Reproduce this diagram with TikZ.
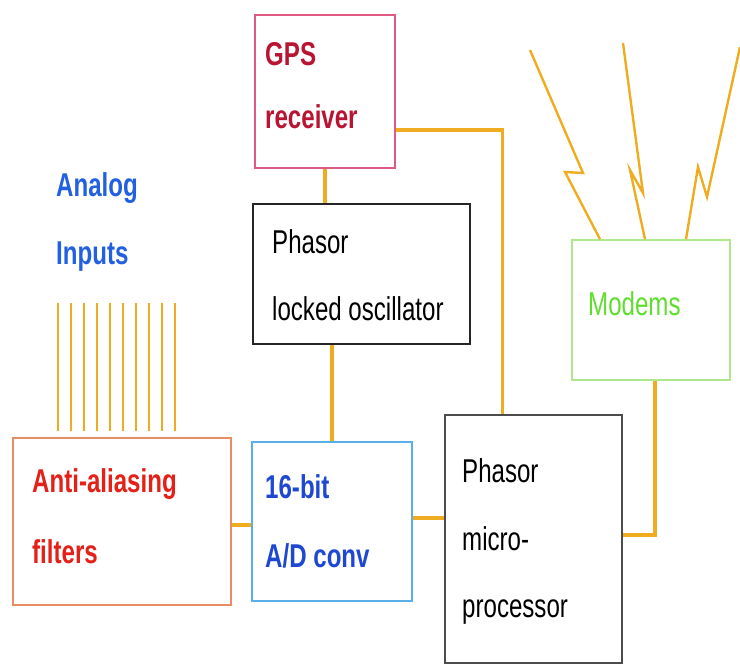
\documentclass[tikz,border=0pt]{standalone}
\usepackage{fontspec}
\setmainfont{Liberation Sans}[FakeStretch=0.73]
\usepackage{tikz}
\usetikzlibrary{calc,positioning}
\definecolor{wirec}{RGB}{240,172,32}
\definecolor{gpsc}{RGB}{222,90,130}
\definecolor{gpst}{RGB}{185,20,50}
\definecolor{filtc}{RGB}{232,140,100}
\definecolor{filtt}{RGB}{228,32,24}
\definecolor{adcc}{RGB}{90,175,232}
\definecolor{adct}{RGB}{30,72,210}
\definecolor{modc}{RGB}{175,232,140}
\definecolor{modt}{RGB}{95,222,45}
\definecolor{anat}{RGB}{35,95,225}

\begin{document}
\begin{tikzpicture}[x=1pt,y=-1pt,
  blk/.style={draw,line width=1.6pt,inner sep=0pt,fill=white},
  lbl/.style={anchor=base west,inner sep=0pt,font=\fontsize{33}{40}\selectfont},
  blbl/.style={lbl,font=\fontsize{33}{40}\selectfont\bfseries},
  wire/.style={draw=wirec,line width=3.5pt},
  bolt/.style={draw=wirec,line width=2.4pt,line join=miter}]
  \useasboundingbox (0,0) rectangle (740,664);
  % blocks
  \node[blk,draw=gpsc,minimum width=140pt,minimum height=153pt] (gps) at (325,91.5) {};
  \node[blk,draw=black!85,minimum width=217pt,minimum height=140pt] (osc) at (361.5,274) {};
  \node[blk,draw=filtc,minimum width=218pt,minimum height=167pt] (filt) at (122,521.5) {};
  \node[blk,draw=adcc,minimum width=160pt,minimum height=159pt] (adc) at (332,521.5) {};
  \node[blk,draw=black!70,minimum width=177pt,minimum height=248pt] (proc) at (533.5,539) {};
  \node[blk,draw=modc,minimum width=158pt,minimum height=140pt] (modem) at (651,310) {};
  % texts
  \node[blbl,text=gpst] (gps1) at (265,65) {GPS};
  \node[blbl,text=gpst] (gps2) at (265,128) {receiver};
  \node[lbl] (osc1) at (272,253) {Phasor};
  \node[lbl] (osc2) at (272,320) {locked oscillator};
  \node[blbl,text=filtt] (filt1) at (32,492) {Anti-aliasing};
  \node[blbl,text=filtt] (filt2) at (32,563) {filters};
  \node[blbl,text=adct] (adc1) at (265,498) {16-bit};
  \node[blbl,text=adct] (adc2) at (265,567) {A/D conv};
  \node[lbl] (proc1) at (462,482) {Phasor};
  \node[lbl] (proc2) at (462,550) {micro-};
  \node[lbl] (proc3) at (462,617) {processor};
  \node[lbl,text=modt] (mod1) at (588,315) {Modems};
  \node[blbl,text=anat] (ana1) at (56,196) {Analog};
  \node[blbl,text=anat] (ana2) at (56,264) {Inputs};
  % analog input lines
  \foreach \i in {0,...,9}
    \draw[wirec,line width=2.8pt] ({58+13*\i},303) -- ({58+13*\i},431);
  % wiring
  \draw[wire] (gps.south) -- (gps.south |- osc.north);
  \draw[wire] (adc.north |- osc.south) -- (adc.north);
  \draw[wire] ([yshift=-3.5pt]filt.east) -- ([yshift=-3.5pt]adc.west);
  \draw[wire] ([yshift=3.5pt]adc.east) -- ([yshift=3.5pt]adc.east -| proc.west);
  \draw[wire] ([yshift=-38.5pt]gps.east) -| ([xshift=-31pt]proc.north);
  \draw[wire] ([yshift=4pt]proc.east) -| ([xshift=4pt]modem.south);
  % radio links
  \draw[bolt] (530,50) -- (583,173) -- (565,172) -- ([xshift=-51pt]modem.north);
  \draw[bolt] (623,43) -- (643,193) -- (630,170) -- ([xshift=-6pt]modem.north);
  \draw[bolt] (740,47) -- (707,197) -- (698,167) -- ([xshift=35pt]modem.north);
\end{tikzpicture}
\end{document}
